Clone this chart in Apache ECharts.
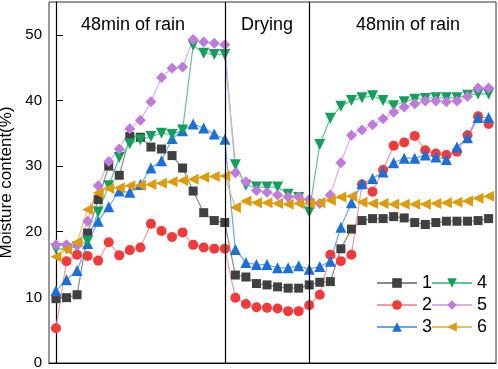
<!DOCTYPE html>
<html>
<head>
<meta charset="utf-8">
<script src="https://cdn.jsdelivr.net/npm/echarts@6/dist/echarts.min.js"></script>
<style>
  html, body { margin: 0; padding: 0; background: #fff; }
  #main { width: 498px; height: 369px; }
</style>
</head>
<body>
<div id="main"></div>
<script>
// sampling steps (3 min each): rain 0-16, drying 16-24, rain 24-41
var steps = [0,1,2,3,4,5,6,7,8,9,10,11,12,13,14,15,16,17,18,19,20,
             21,22,23,24,25,26,27,28,29,30,31,32,33,34,35,36,37,38,39,40,41];
var phaseBreaks = [16, 24];
var phaseNames = ['48min of rain', 'Drying', '48min of rain'];

var s1 = [9.8,9.95,10.4,19.8,24.9,30.0,28.6,34.5,34.4,32.9,32.6,31.6,29.7,26.2,22.9,21.7,21.4,
          13.4,13.1,12.1,11.9,11.6,11.4,11.4,11.9,
          12.3,12.4,17.4,20.4,21.7,22.0,22.0,22.3,22.1,21.4,21.1,21.4,21.6,21.6,21.6,21.7,22.0];
var s2 = [5.3,15.5,16.5,16.3,15.6,18.4,16.4,17.2,17.6,21.2,20.1,19.2,19.9,18.0,17.6,17.4,17.4,
          9.95,9.0,8.5,8.4,8.3,7.9,7.9,8.8,
          10.4,16.5,15.5,16.5,27.2,26.1,29.4,33.1,33.6,34.6,32.4,31.9,31.7,32.2,34.7,37.6,36.4];
var s3 = [11.0,12.7,14.1,18.2,21.6,23.8,26.2,26.0,27.2,29.7,30.8,34.2,35.4,36.4,35.8,34.9,34.1,
          17.3,15.3,15.0,15.0,14.5,14.5,14.8,14.3,
          14.7,15.5,20.7,24.4,27.3,28.1,29.1,30.5,31.2,31.2,31.7,31.4,31.0,32.9,34.3,37.4,37.4];
var s4 = [17.4,17.4,17.7,18.6,23.0,27.0,31.3,33.4,34.0,34.5,35.0,34.8,35.5,48.4,47.2,47.0,47.0,
          30.2,27.1,26.8,26.8,26.8,25.7,25.2,23.0,
          33.3,37.3,39.1,40.0,40.4,40.7,40.0,39.2,39.8,40.2,40.3,40.4,40.4,40.4,40.8,41.0,41.0];
var s5 = [18.0,18.0,17.9,21.6,27.0,30.7,32.6,35.7,37.0,39.8,43.5,44.9,45.1,49.3,48.9,48.7,48.5,
          29.0,27.6,26.3,26.0,25.6,25.3,25.3,24.9,
          24.3,25.6,30.5,34.7,35.5,36.3,37.2,38.2,39.0,39.5,39.9,39.9,39.8,39.9,40.6,41.9,41.9];
var s6 = [16.2,17.3,18.4,23.4,25.9,26.6,26.7,27.0,27.1,27.2,27.4,27.6,27.8,28.0,28.3,28.4,28.5,
          23.7,24.7,24.4,24.4,24.3,24.2,24.3,24.3,
          24.4,24.8,25.3,25.4,24.5,24.3,24.3,24.2,24.2,24.2,24.2,24.3,24.4,24.5,24.7,25.1,25.4];

var FONT = '"Liberation Sans", Arial, sans-serif';

function pairs(arr) {
  return arr.map(function (v, i) { return [steps[i], v]; });
}

// name, values, marker, marker colour, line colour, size, rotate
var defs = [
  ['1', s1, 'rect',     '#404040', '#8a8a8a', 9,  0],
  ['2', s2, 'circle',   '#f23a3a', '#f59a9a', 10, 0],
  ['3', s3, 'triangle', '#1a6fdb', '#6aa6ee', 11, 0],
  ['4', s4, 'triangle', '#13a05a', '#5cc891', 11, 180],
  ['5', s5, 'diamond',  '#c07ade', '#d9aef0', 11, 0],
  ['6', s6, 'triangle', '#de9b0c', '#eabf5c', 11, 90]
];

var series = defs.map(function (d) {
  return {
    name: d[0],
    type: 'line',
    data: pairs(d[1]),
    symbol: d[2],
    symbolSize: d[5],
    symbolRotate: d[6],
    showAllSymbol: true,
    itemStyle: { color: d[3], opacity: 1 },
    lineStyle: { color: d[4], width: 1.2 },
    z: 3
  };
});

// phase separators
series[0].markLine = {
  silent: true,
  symbol: 'none',
  label: { show: false },
  lineStyle: { color: '#000', width: 1.2, type: 'solid' },
  data: phaseBreaks.map(function (x) { return { xAxis: x }; })
};

var myChart = echarts.init(document.getElementById('main'));

var option = {
  animation: false,
  textStyle: { fontFamily: FONT },
  grid: {
    left: 49, right: 2, top: 2, bottom: 6,
    containLabel: false, outerBoundsMode: 'none',
    show: true, borderColor: '#333', borderWidth: 1
  },
  graphic: [
    { type: 'text', x: 133, y: 16, style: { text: phaseNames[0], fill: '#000', font: '18px ' + FONT, textAlign: 'center' } },
    { type: 'text', x: 267, y: 16, style: { text: phaseNames[1], fill: '#000', font: '18px ' + FONT, textAlign: 'center' } },
    { type: 'text', x: 408, y: 16, style: { text: phaseNames[2], fill: '#000', font: '18px ' + FONT, textAlign: 'center' } }
  ],
  legend: [
    {
      data: ['1', '2', '3'], orient: 'vertical', left: 371, top: 269,
      itemWidth: 40, itemHeight: 12, itemGap: 4,
      textStyle: { fontSize: 18, color: '#000' }
    },
    {
      data: ['4', '5', '6'], orient: 'vertical', left: 426, top: 269,
      itemWidth: 40, itemHeight: 12, itemGap: 4,
      textStyle: { fontSize: 18, color: '#000' }
    }
  ],
  xAxis: {
    type: 'value',
    min: -0.66, max: 41.7,
    axisLine: { show: true, lineStyle: { color: '#000', width: 1.2 } },
    axisTick: { show: false },
    axisLabel: { show: false },
    splitLine: { show: false }
  },
  yAxis: {
    type: 'value',
    min: 0, max: 55, interval: 10,
    name: 'Moisture content(%)',
    nameLocation: 'middle',
    nameGap: 31,
    nameTextStyle: { fontSize: 17, color: '#000' },
    axisLine: { show: true, lineStyle: { color: '#000', width: 1.2 } },
    axisTick: { show: true, inside: true, length: 7, lineStyle: { color: '#000' } },
    axisLabel: { fontSize: 15, color: '#000', margin: 7, showMaxLabel: false },
    splitLine: { show: false }
  },
  series: series
};

myChart.setOption(option);
</script>
</body>
</html>
